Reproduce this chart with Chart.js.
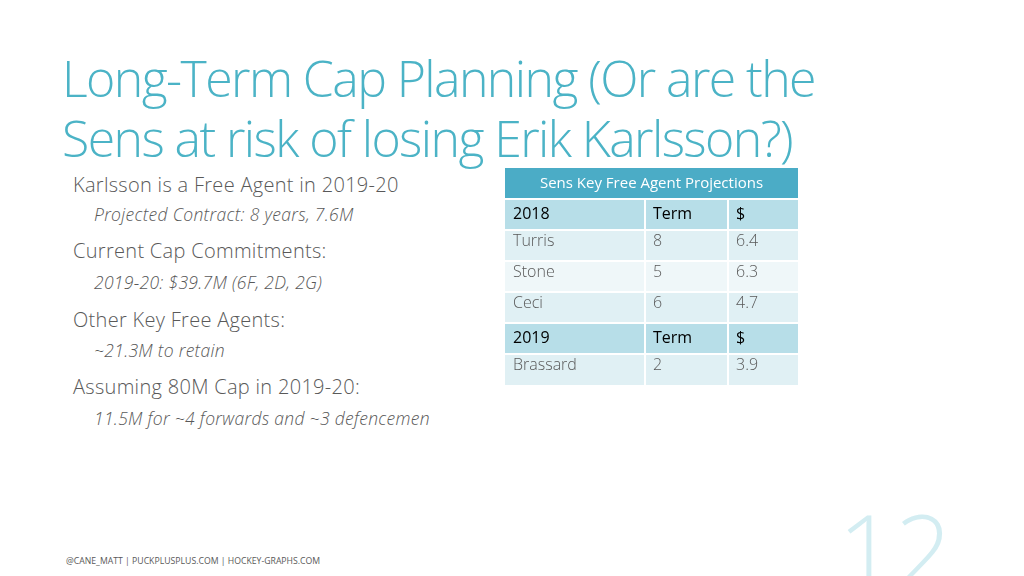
<!DOCTYPE html>
<html><head><meta charset="utf-8">
<script src="https://cdn.jsdelivr.net/npm/chart.js@4/dist/chart.umd.min.js"></script>
<style>
body{margin:0;width:1024px;height:576px;background:#fff;font-family:"Open Sans","Noto Sans",sans-serif;color:#595959;position:relative;overflow:hidden}
.t{position:absolute;left:62px;top:48px;font-family:"Open Sans",sans-serif;font-weight:300;font-size:50px;line-height:60px;color:#4bb3c6;letter-spacing:-1.6px}
.b{position:absolute;left:73px;font-size:20px;font-weight:300;letter-spacing:0.3px}
.s{position:absolute;left:94px;font-size:17.5px;font-style:italic;font-weight:300;letter-spacing:0.3px}
.f{position:absolute;left:66px;top:555px;font-size:8.7px}
.n{position:absolute;left:838px;top:478px;font-size:100px;font-weight:200;color:#d3edf2;line-height:140px}
#wrap{position:absolute;left:500px;top:164px;width:304px;height:226px}
</style></head><body>
<div class="t">Long-Term Cap Planning (Or are the<br>Sens at risk of losing Erik Karlsson?)</div>
<div class="b" style="top:171px">Karlsson is a Free Agent in 2019-20</div>
<div class="s" style="top:202px">Projected Contract: 8 years, 7.6M</div>
<div class="b" style="top:237px">Current Cap Commitments:</div>
<div class="s" style="top:270px">2019-20: $39.7M (6F, 2D, 2G)</div>
<div class="b" style="top:306px">Other Key Free Agents:</div>
<div class="s" style="top:338px">~21.3M to retain</div>
<div class="b" style="top:373px">Assuming 80M Cap in 2019-20:</div>
<div class="s" style="top:406px">11.5M for ~4 forwards and ~3 defencemen</div>
<div class="f">@CANE_MATT | PUCKPLUSPLUS.COM | HOCKEY-GRAPHS.COM</div>
<div class="n">12</div>
<div id="wrap"><canvas id="tbl"></canvas></div>
<script>
var tableTitle = 'Sens Key Free Agent Projections';
var players = ['2018', 'Turris', 'Stone', 'Ceci', '2019', 'Brassard'];
var terms = ['Term', '8', '5', '6', 'Term', '2'];
var amounts = ['$', '6.4', '6.3', '4.7', '$', '3.9'];
var headerRows = [0, 4];

var tablePlugin = {
  id: 'tablePlugin',
  afterDraw: function(chart) {
    var c = chart.ctx, x0 = 5, w = 293, rh = 31, y0 = 4;
    var cols = [x0, x0 + 140, x0 + 223, x0 + w];
    c.save();
    c.fillStyle = '#4bacc6';
    c.fillRect(x0, y0, w, rh - 1);
    c.fillStyle = '#fff';
    c.font = '15px "Open Sans"';
    c.textAlign = 'center'; c.textBaseline = 'middle';
    c.fillText(tableTitle, x0 + w / 2, y0 + rh / 2);
    c.textAlign = 'left';
    players.forEach(function(p, i) {
      var y = y0 + rh * (i + 1);
      var hd = headerRows.indexOf(i) >= 0;
      c.fillStyle = hd ? '#b7dee8' : (i % 2 ? '#e0f0f4' : '#eff7f9');
      c.fillRect(x0, y, w, rh);
      c.strokeStyle = '#fff'; c.lineWidth = 2;
      c.beginPath();
      c.moveTo(x0, y); c.lineTo(x0 + w, y);
      c.moveTo(cols[1], y); c.lineTo(cols[1], y + rh);
      c.moveTo(cols[2], y); c.lineTo(cols[2], y + rh);
      c.stroke();
      c.fillStyle = hd ? '#000' : '#595959';
      c.font = (hd ? '' : '300 ') + '16px "Open Sans"';
      var ty = y + (hd ? rh / 2 : rh / 2 - 4);
      c.fillText(p, cols[0] + 8, ty);
      c.fillText(terms[i], cols[1] + 8, ty);
      c.fillText(amounts[i], cols[2] + 8, ty);
    });
    c.restore();
  }
};

new Chart(document.getElementById('tbl'), {
  type: 'bar',
  data: { labels: [], datasets: [] },
  options: {
    responsive: true, maintainAspectRatio: false, animation: false,
    plugins: { legend: { display: false }, tooltip: { enabled: false } },
    scales: { x: { display: false }, y: { display: false } }
  },
  plugins: [tablePlugin]
});
</script>
</body></html>
